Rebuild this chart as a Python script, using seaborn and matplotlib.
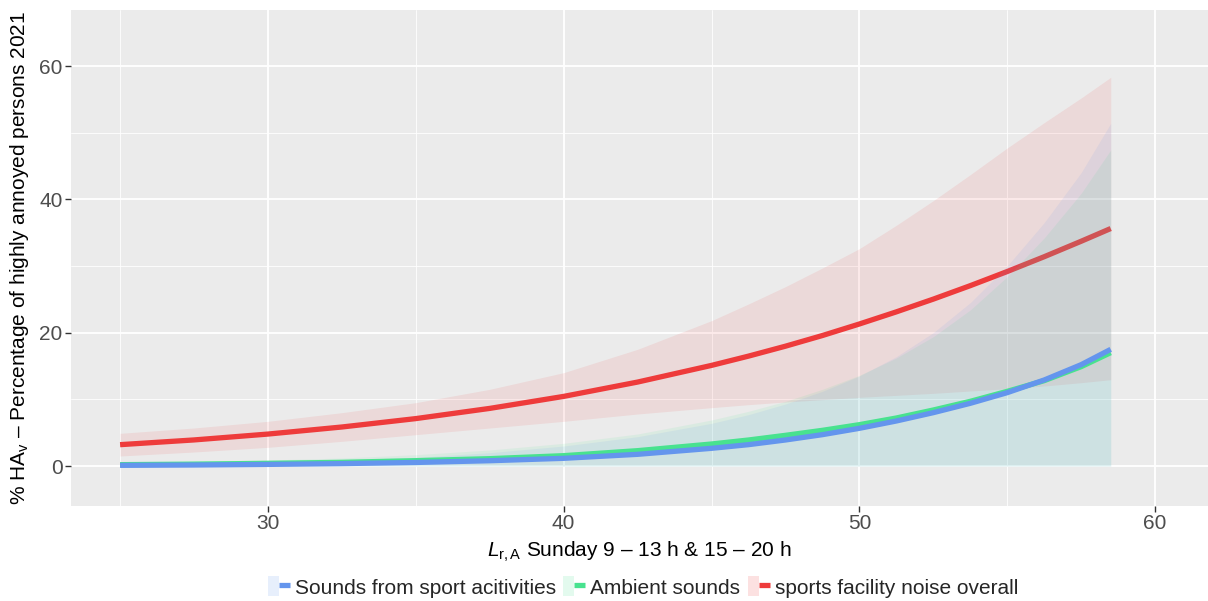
import matplotlib
matplotlib.use("Agg")
import numpy as np
import pandas as pd
import matplotlib.pyplot as plt
import seaborn as sns
from matplotlib.patches import Patch
from matplotlib.lines import Line2D
from matplotlib.legend_handler import HandlerTuple

# Rating level L_r,A (dB) at which the fitted curves are tabulated
level = [25, 27.5, 30, 32.5, 35, 37.5, 40, 42.5, 45, 46.25, 47.5, 48.75,
         50, 51.25, 52.5, 53.75, 55, 56.25, 57.5, 58.5]

# % highly annoyed – sounds from sport activities
sport = [0.1, 0.15, 0.24, 0.36, 0.53, 0.79, 1.15, 1.75, 2.65, 3.2, 3.9, 4.7,
         5.65, 6.75, 8.0, 9.4, 11.0, 12.9, 15.2, 17.5]
sport_lo = [0] * 20
sport_hi = [0.3, 0.4, 0.6, 0.9, 1.3, 2.0, 3.0, 4.4, 6.4, 7.7, 9.3, 11.2,
            13.5, 16.4, 20.0, 24.5, 30.0, 36.5, 44.0, 51.4]

# % highly annoyed – ambient sounds
ambient = [0.2, 0.28, 0.4, 0.55, 0.8, 1.1, 1.55, 2.3, 3.3, 3.9, 4.6, 5.35,
           6.2, 7.2, 8.4, 9.7, 11.2, 12.8, 14.9, 17.0]
ambient_lo = [0] * 20
ambient_hi = [0.5, 0.7, 0.9, 1.2, 1.7, 2.4, 3.4, 4.8, 6.9, 8.2, 9.7, 11.5,
              13.6, 16.2, 19.4, 23.4, 28.4, 34.2, 40.9, 47.4]

# % highly annoyed – sports facility noise overall
overall = [3.2, 3.91, 4.79, 5.85, 7.11, 8.64, 10.44, 12.59, 15.09, 16.48, 17.97, 19.57,
           21.3, 23.12, 25.03, 27.05, 29.17, 31.39, 33.71, 35.62]
overall_lo = [1.5, 2.1, 2.8, 3.7, 4.7, 5.7, 6.7, 7.8, 8.75, 9.2, 9.6, 9.95,
              10.3, 10.6, 10.9, 11.25, 11.6, 12.0, 12.5, 12.95]
overall_hi = [4.9, 5.7, 6.7, 8.0, 9.5, 11.5, 14.0, 17.5, 21.8, 24.3, 26.9, 29.7,
              32.6, 36.1, 39.8, 43.7, 47.7, 51.5, 55.2, 58.3]

names = ["Sounds from sport acitivities", "Ambient sounds", "sports facility noise overall"]
colors = ["#6495ED", "#48E28F", "#EE3B3B"]

x_ticks = [30, 40, 50, 60]
y_ticks = [0, 20, 40, 60]

sns.set_theme(style="darkgrid")
plt.rcParams["font.family"] = ["Liberation Sans", "DejaVu Sans"]
plt.rcParams["mathtext.fontset"] = "custom"
plt.rcParams["mathtext.rm"] = "Liberation Sans"
plt.rcParams["mathtext.it"] = "Liberation Sans:italic"
plt.rcParams["mathtext.bf"] = "Liberation Sans:bold"

n = len(level)
df = pd.DataFrame({
    "level": level * 3,
    "ha": sport + ambient + overall,
    "source": [names[0]] * n + [names[1]] * n + [names[2]] * n,
})

fig = plt.figure(figsize=(12.08, 6.01), dpi=100)
ax = fig.add_axes([71 / 1208, 1 - 506 / 601, 1 - 71 / 1208, (506 - 10) / 601])
ax.set_facecolor("#EBEBEB")

sns.lineplot(data=df, x="level", y="ha", hue="source", hue_order=names,
             palette=colors, linewidth=3.8, legend=False, ax=ax)

# drawing order: overall band, overall line, then the two narrower bands and lines
line_z = {names[2]: 2, names[1]: 4, names[0]: 5}
for ln, nm in zip(ax.lines, names):
    ln.set_zorder(line_z[nm])
    ln.set_solid_capstyle("butt")
    ln.set_solid_joinstyle("round")

ax.fill_between(level, overall_lo, overall_hi, color=colors[2], alpha=0.1, lw=0, zorder=1)
ax.fill_between(level, ambient_lo, ambient_hi, color=colors[1], alpha=0.1, lw=0, zorder=3)
ax.fill_between(level, sport_lo, sport_hi, color=colors[0], alpha=0.1, lw=0, zorder=3)

ax.set_xlim(23.34, 61.79)
ax.set_ylim(-6.0, 68.4)
ax.set_xticks(x_ticks)
ax.set_xticklabels([str(v) for v in x_ticks])
ax.set_yticks(y_ticks)
ax.set_yticklabels([str(v) for v in y_ticks])
ax.set_xticks([25, 35, 45, 55], minor=True)
ax.set_yticks([10, 30, 50], minor=True)
ax.grid(which="major", color="white", linewidth=1.3)
ax.grid(which="minor", color="white", linewidth=0.6)
ax.set_axisbelow(True)
for s in ax.spines.values():
    s.set_visible(False)

ax.tick_params(which="major", length=4, width=1, color="#333333",
               labelcolor="#4D4D4D", labelsize=15, pad=2,
               bottom=True, left=True)
ax.tick_params(which="minor", length=0)

ax.set_xlabel(r"$L_{\mathrm{r,A}}$ Sunday 9 – 13 h & 15 – 20 h", fontsize=15,
              color="black", labelpad=5)
ax.set_ylabel(r"% HA$_{\mathrm{v}}$ – Percentage of highly annoyed persons 2021",
              fontsize=15, color="black", labelpad=6)

handles = []
for c in colors:
    handles.append((Patch(facecolor=c, alpha=0.15, edgecolor="none"),
                    Line2D([], [], color=c, linewidth=3.8, solid_capstyle="butt")))
fig.legend(handles, names, handler_map={tuple: HandlerTuple(ndivide=None, pad=0)},
           loc="center", bbox_to_anchor=(643 / 1208, 1 - 587 / 601), ncol=3,
           frameon=False, fontsize=15, handlelength=1.05, handleheight=1.1,
           handletextpad=0.25, columnspacing=0.35, borderaxespad=0)

fig.savefig("out.png", dpi=100)
